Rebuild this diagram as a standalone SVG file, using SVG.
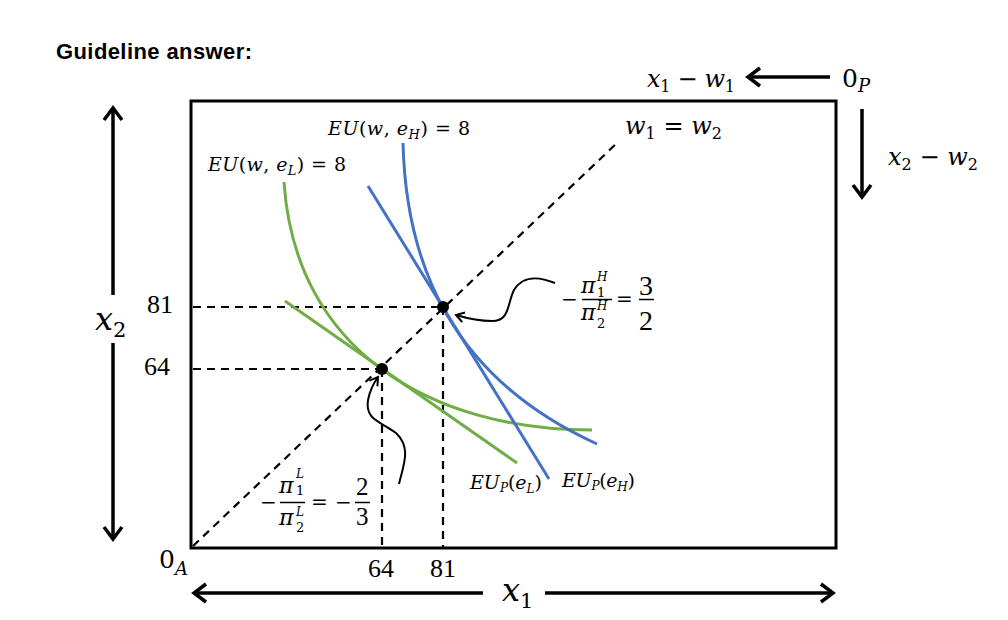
<svg xmlns="http://www.w3.org/2000/svg" width="1008" height="620" viewBox="0 0 1008 620">
<style>
.m{font-family:"Liberation Serif","Times New Roman",serif;fill:#000}
.d{font-family:"DejaVu Serif","Liberation Serif",serif;fill:#000}
.i{font-style:italic}
.ax{stroke:#000;stroke-width:3.5;fill:none}
.ds{stroke:#000;stroke-width:2.2;stroke-dasharray:8 6;fill:none}
.gr{stroke:#70AD47;stroke-width:3;fill:none}
.bl{stroke:#4472C4;stroke-width:3;fill:none}
.cv{stroke:#000;stroke-width:2;fill:none}
.bar{stroke:#000;stroke-width:1.5}
</style>
<defs>
<marker id="ah" viewBox="-18 -12 22 24" refX="0" refY="0" markerWidth="22" markerHeight="24" markerUnits="userSpaceOnUse" orient="auto">
<path d="M-12,-9 L0,0 L-12,9" fill="none" stroke="#000" stroke-width="3.5"/>
</marker>
<marker id="sh" viewBox="-12 -8 16 16" refX="0" refY="0" markerWidth="16" markerHeight="16" markerUnits="userSpaceOnUse" orient="auto">
<path d="M-8,-5 L0,0 L-8,5" fill="none" stroke="#000" stroke-width="2"/>
</marker>
</defs>
<rect width="1008" height="620" fill="#fff"/>
<text x="56" y="59" font-family="Liberation Sans,Arial,sans-serif" font-weight="bold" font-size="22" textLength="196" lengthAdjust="spacing">Guideline answer:</text>

<g id="frame">
<rect x="191" y="101" width="645" height="447" fill="none" stroke="#000" stroke-width="3"/>
</g>

<g id="connectors">
<line class="ax" x1="113" y1="295" x2="113" y2="108" marker-end="url(#ah)"/>
<line class="ax" x1="113" y1="343" x2="113" y2="539" marker-end="url(#ah)"/>
<line class="ax" x1="483" y1="593" x2="194" y2="593" marker-end="url(#ah)"/>
<line class="ax" x1="545" y1="593" x2="833" y2="593" marker-end="url(#ah)"/>
<line class="ax" x1="830" y1="77" x2="748" y2="77" marker-end="url(#ah)"/>
<line class="ax" x1="862" y1="109" x2="862" y2="197" marker-end="url(#ah)"/>
<path class="cv" d="M555,283 C538,276 522,276 514,290 C507,304 510,321 492,321 C478,321 466,318 456,315" marker-end="url(#sh)"/>
<path class="cv" d="M399,484 C403,466 412,448 396,433 C380,421 365,420 368,400 C370,390 373,384 378,377" marker-end="url(#sh)"/>
</g>

<g id="guides">
<line class="ds" x1="193" y1="546" x2="617" y2="143"/>
<line class="ds" x1="193" y1="307" x2="443" y2="307"/>
<line class="ds" x1="193" y1="369" x2="382" y2="369"/>
<line class="ds" x1="443" y1="307" x2="443" y2="547"/>
<line class="ds" x1="382" y1="369" x2="382" y2="547"/>
</g>

<g id="curves">
<path id="EU-L" class="gr" d="M284,182 C295,350 430,430 592,430"/>
<line id="EUP-L" class="gr" x1="285" y1="301" x2="517" y2="463"/>
<path id="EU-H" class="bl" d="M403,143 C406,265 452,378 597,444"/>
<line id="EUP-H" class="bl" x1="368" y1="186" x2="549" y2="479"/>
</g>

<g id="points">
<circle cx="443" cy="307" r="6" fill="#000"/>
<circle cx="382" cy="369" r="6" fill="#000"/>
</g>

<g id="labels">
<text class="d" x="647" y="87" font-size="24" textLength="88" lengthAdjust="spacing"><tspan class="i">x</tspan><tspan font-size="16" dy="5">1</tspan><tspan dy="-5"> − </tspan><tspan class="i">w</tspan><tspan font-size="16" dy="5">1</tspan></text>
<text class="d" x="842" y="87" font-size="25">0<tspan class="i" font-size="18" dy="5">P</tspan></text>
<text class="d" x="888" y="165" font-size="24" textLength="90" lengthAdjust="spacing"><tspan class="i">x</tspan><tspan font-size="16" dy="5">2</tspan><tspan dy="-5"> − </tspan><tspan class="i">w</tspan><tspan font-size="16" dy="5">2</tspan></text>
<text class="d" x="625" y="134" font-size="24" textLength="97" lengthAdjust="spacing"><tspan class="i">w</tspan><tspan font-size="16" dy="5">1</tspan><tspan dy="-5"> = </tspan><tspan class="i">w</tspan><tspan font-size="16" dy="5">2</tspan></text>

<text class="d" x="95" y="330" font-size="32"><tspan class="i">x</tspan><tspan font-size="21" dy="7">2</tspan></text>
<text class="d" x="502" y="601" font-size="32"><tspan class="i">x</tspan><tspan font-size="21" dy="7">1</tspan></text>
<text class="m" x="147" y="313" font-size="26">81</text>
<text class="m" x="144" y="375" font-size="26">64</text>
<text class="m" x="368" y="577" font-size="26">64</text>
<text class="m" x="430" y="577" font-size="26">81</text>
<text class="d" x="159" y="568" font-size="25">0<tspan class="i" font-size="18" dy="7">A</tspan></text>

<text class="d" x="328" y="135" font-size="19" textLength="142" lengthAdjust="spacing"><tspan class="i">EU</tspan>(<tspan class="i">w</tspan>, <tspan class="i">e</tspan><tspan class="i" font-size="13" dy="4">H</tspan><tspan dy="-4">) = 8</tspan></text>
<text class="d" x="208" y="171" font-size="19" textLength="138" lengthAdjust="spacing"><tspan class="i">EU</tspan>(<tspan class="i">w</tspan>, <tspan class="i">e</tspan><tspan class="i" font-size="13" dy="4">L</tspan><tspan dy="-4">) = 8</tspan></text>
<text class="d" x="470" y="489" font-size="19" textLength="72" lengthAdjust="spacing"><tspan class="i">EU</tspan><tspan class="i" font-size="12" dy="3">P</tspan><tspan dy="-3">(</tspan><tspan class="i">e</tspan><tspan class="i" font-size="12" dy="4">L</tspan><tspan dy="-4">)</tspan></text>
<text class="d" x="562" y="487" font-size="19" textLength="73" lengthAdjust="spacing"><tspan class="i">EU</tspan><tspan class="i" font-size="12" dy="3">P</tspan><tspan dy="-3">(</tspan><tspan class="i">e</tspan><tspan class="i" font-size="12" dy="4">H</tspan><tspan dy="-4">)</tspan></text>

<g id="frac-H">
<text class="d" x="561" y="306" font-size="20">−</text>
<text class="d i" x="581" y="293" font-size="22">π</text>
<text class="d i" x="597" y="281" font-size="12">H</text>
<text class="d" x="597" y="297" font-size="13">1</text>
<line class="bar" x1="582" y1="299.5" x2="612" y2="299.5"/>
<text class="d i" x="581" y="320" font-size="22">π</text>
<text class="d i" x="597" y="310" font-size="12">H</text>
<text class="d" x="597" y="328" font-size="13">2</text>
<text class="d" x="616" y="306" font-size="20">=</text>
<text class="m" x="639" y="295" font-size="28">3</text>
<line class="bar" x1="639" y1="299.5" x2="654" y2="299.5"/>
<text class="m" x="639" y="330" font-size="28">2</text>
</g>

<g id="frac-L">
<text class="d" x="260" y="509" font-size="20">−</text>
<text class="d i" x="279" y="493" font-size="22">π</text>
<text class="d i" x="296" y="478" font-size="12">L</text>
<text class="d" x="296" y="495" font-size="13">1</text>
<line class="bar" x1="280" y1="502.5" x2="305" y2="502.5"/>
<text class="d i" x="279" y="525" font-size="22">π</text>
<text class="d i" x="296" y="516" font-size="12">L</text>
<text class="d" x="296" y="532" font-size="13">2</text>
<text class="d" x="311" y="509" font-size="20">=</text>
<text class="d" x="335" y="509" font-size="20">−</text>
<text class="m" x="356" y="495" font-size="25">2</text>
<line class="bar" x1="355" y1="502.5" x2="370" y2="502.5"/>
<text class="m" x="356" y="525" font-size="25">3</text>
</g>
</g>
</svg>
